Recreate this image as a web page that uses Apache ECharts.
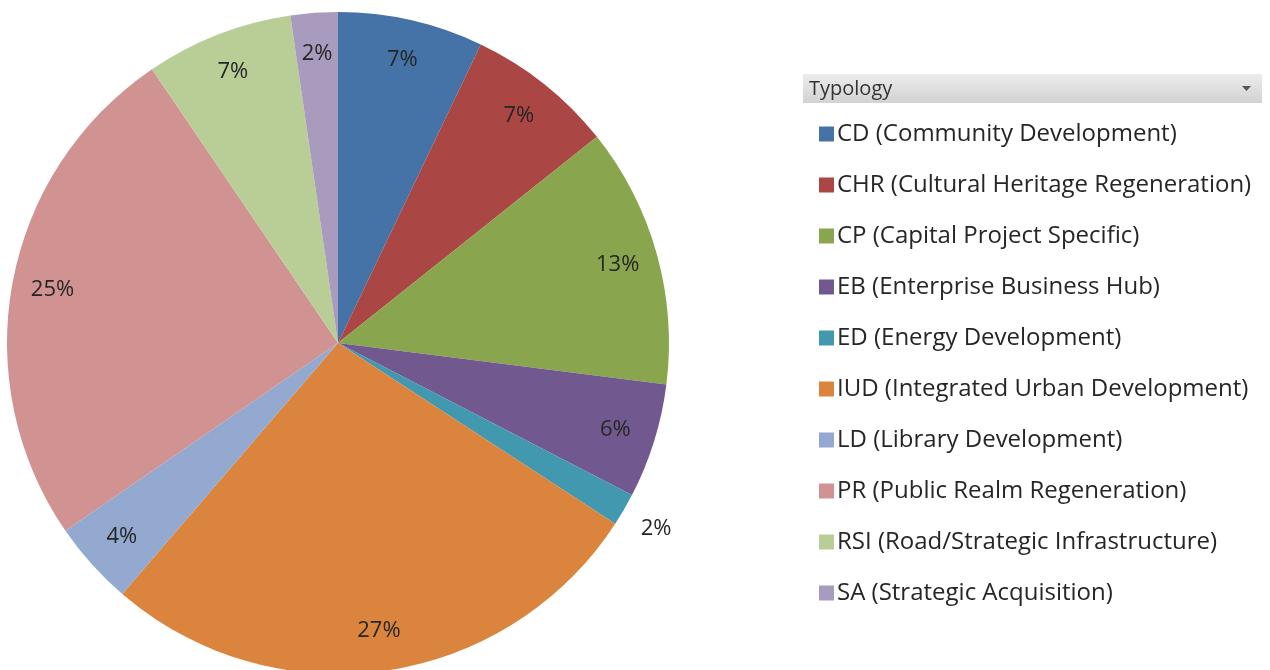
<!DOCTYPE html>
<html>
<head>
<meta charset="utf-8">
<script src="https://cdn.jsdelivr.net/npm/echarts@6/dist/echarts.min.js"></script>
<style>
  html, body { margin: 0; padding: 0; background: #fff; }
  #chart { width: 1270px; height: 670px; }
</style>
</head>
<body>
<div id="chart"></div>
<script>
const categories = [
  'CD (Community Development)',
  'CHR (Cultural Heritage Regeneration)',
  'CP (Capital Project Specific)',
  'EB (Enterprise Business Hub)',
  'ED (Energy Development)',
  'IUD (Integrated Urban Development)',
  'LD (Library Development)',
  'PR (Public Realm Regeneration)',
  'RSI (Road/Strategic Infrastructure)',
  'SA (Strategic Acquisition)'
];
const shares = [7.1, 7.2, 12.7, 5.6, 1.6, 27.1, 4.1, 25.1, 7.2, 2.3];
const colors = ['#4572a7', '#aa4643', '#89a54e', '#71588f', '#4198af',
  '#db843d', '#93a9cf', '#d19392', '#b9cd96', '#a99bbd'];
const legendTitle = 'Typology';

const fontFamily = '"Open Sans", "Noto Sans", sans-serif';
const center = [338, 343];
const R = 331;

const pieData = categories.map((name, i) => ({
  name,
  value: shares[i],
  itemStyle: { color: colors[i] }
}));

// transparent ring used only to place the percent labels near the rim
const labelData = categories.map((name, i) => {
  const item = { name, value: shares[i] };
  if (name.startsWith('ED ')) {
    item.label = { position: 'outside', distanceToLabelLine: -16 };
    item.labelLine = { show: false, length: 38, length2: 0 };
  }
  return item;
});

const chart = echarts.init(document.getElementById('chart'));
chart.setOption({
  animation: false,
  color: colors,
  legend: {
    orient: 'vertical',
    left: 814,
    top: 117,
    itemWidth: 15,
    itemHeight: 15,
    itemGap: 27,
    icon: 'rect',
    data: categories,
    selectedMode: false,
    textStyle: {
      fontFamily,
      fontSize: 24,
      lineHeight: 24,
      color: '#262626',
      padding: [0, 0, 0, -2]
    }
  },
  graphic: [
    {
      type: 'rect',
      shape: { x: 803, y: 74, width: 459, height: 29 },
      style: {
        fill: new echarts.graphic.LinearGradient(0, 0, 0, 1, [
          { offset: 0, color: '#ececec' },
          { offset: 1, color: '#d2d2d2' }
        ])
      }
    },
    {
      type: 'text',
      x: 809,
      y: 89,
      style: {
        text: legendTitle,
        fontFamily,
        fontSize: 20,
        fill: '#333',
        verticalAlign: 'middle'
      }
    },
    {
      type: 'polygon',
      shape: { points: [[1242, 86], [1251, 86], [1246.5, 91]] },
      style: { fill: '#555' }
    }
  ],
  series: [
    {
      type: 'pie',
      center,
      radius: R,
      startAngle: 90,
      clockwise: true,
      data: pieData,
      label: { show: false },
      labelLine: { show: false },
      itemStyle: { borderWidth: 0 },
      silent: true
    },
    {
      type: 'pie',
      center,
      radius: [244, R],
      startAngle: 90,
      clockwise: true,
      avoidLabelOverlap: false,
      data: labelData,
      silent: true,
      itemStyle: { color: 'rgba(0,0,0,0)', borderWidth: 0 },
      label: {
        show: true,
        position: 'inside',
        formatter: p => Math.round(p.value) + '%',
        fontFamily,
        fontSize: 22,
        color: '#262626'
      },
      labelLine: { show: false }
    }
  ]
});
</script>
</body>
</html>
